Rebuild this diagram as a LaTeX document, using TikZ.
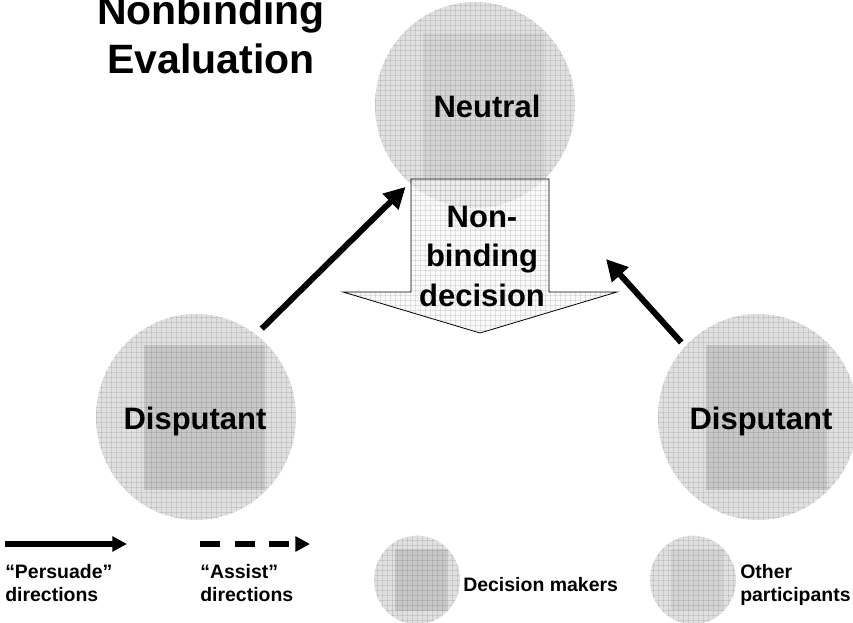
\documentclass[tikz,border=0pt]{standalone}
\usepackage{fontspec}
\setmainfont{Liberation Sans}
\usetikzlibrary{shapes.geometric,arrows.meta,calc}

\tikzstyle{personshape}=[ellipse, inner sep=0pt, draw=none, fill=gray!24]
\tikzstyle{dmfill}=[fill=gray!44]
\tikzstyle{opfill}=[fill=gray!34]
\tikzstyle{gridline}=[draw=black, draw opacity=0.09, line width=0.45pt]
\tikzstyle{boxarrow}=[draw=black, line width=0.6pt, fill=gray!8, fill opacity=0.6]
\tikzstyle{persuade}=[line width=4.5pt, -{Triangle[length=16pt,width=16pt]}]
\tikzstyle{legendarrow}=[line width=4pt, -{Triangle[length=11pt,width=11pt]}]
\tikzstyle{assist}=[legendarrow, dash pattern=on 15pt off 11pt]
\tikzstyle{titletext}=[font=\bfseries\fontsize{30.75}{36.75}\selectfont, inner sep=0pt, align=center]
\tikzstyle{bigtext}=[font=\bfseries\fontsize{23.25}{29.6}\selectfont, inner sep=0pt, align=center]
\tikzstyle{legendtext}=[font=\bfseries\fontsize{14.6}{17.25}\selectfont, inner sep=0pt, align=left]

% #1 name, #2 centre, #3 size factor, #4 fill of the inner box
\newcommand{\persona}[4]{%
	\node[personshape, minimum width=#3*150pt, minimum height=#3*154.5pt,
		path picture={
			\path[#4] ($(path picture bounding box.center)+(-52*#3,-72*#3)$) rectangle ($(path picture bounding box.center)+(69*#3,73*#3)$);
			\foreach \g in {-105,-100,...,105} {
				\draw[gridline] ($(path picture bounding box.center)+(\g,-105)$) -- ++(0,210);
				\draw[gridline] ($(path picture bounding box.center)+(-105,\g)$) -- ++(210,0);
			}
		}] (#1) at #2 {};}

\begin{document}
\begin{tikzpicture}[x=0.75pt, y=-0.75pt]
	\useasboundingbox (0,0) rectangle (853,623);
	\clip (0,0) rectangle (853,623);

	\node[titletext] (title) at (211,34.5) {Nonbinding\\Evaluation};

	% the neutral and its decision
	\persona{neutral}{(475,105)}{1}{opfill}
	\node[bigtext, anchor=base] (neutraltext) at (487,118) {Neutral};
	\draw[boxarrow, path picture={
			\foreach \g in {340,345,...,620} \draw[gridline] (\g,170) -- (\g,340);
			\foreach \g in {175,180,...,335} \draw[gridline] (340,\g) -- (620,\g);
		}] (411,179) -- (549,179) -- (549,292) -- (617,292) -- (480,333) -- (343,292) -- (411,292) -- cycle;
	\node[bigtext] (decision) at (482,256.4) {Non-\\binding\\decision};

	% the two disputants
	\persona{left}{(196,417)}{1}{dmfill}
	\node[bigtext, anchor=base] (lefttext) at (195,430) {Disputant};
	\persona{right}{(758,417)}{1}{dmfill}
	\node[bigtext, anchor=base] (righttext) at (761,430) {Disputant};

	\coordinate (righttip) at (606,259);
	\draw[persuade, shorten <=6pt, shorten >=4pt] (left.54) -- (neutral.230);
	\draw[persuade, shorten <=4pt] (right.136) -- (righttip);

	% legend
	\coordinate (pfrom) at (5,544);
	\coordinate (pto) at (127,544);
	\draw[legendarrow] (pfrom) -- (pto);
	\node[legendtext, anchor=west] (ptext) at (5,583.4) {``Persuade''\\directions};

	\coordinate (afrom) at (200,544);
	\coordinate (ato) at (310,544);
	\draw[assist] (afrom) -- (ato);
	\node[legendtext, anchor=west] (atext) at (200,583.4) {``Assist''\\directions};

	\persona{dmkey}{(417,580)}{0.43}{dmfill}
	\node[legendtext, anchor=base west] (dmtext) at (463,591) {Decision makers};

	\persona{opkey}{(693,580)}{0.43}{opfill}
	\node[legendtext, anchor=west] (optext) at (740,585.4) {Other\\participants};
\end{tikzpicture}
\end{document}
